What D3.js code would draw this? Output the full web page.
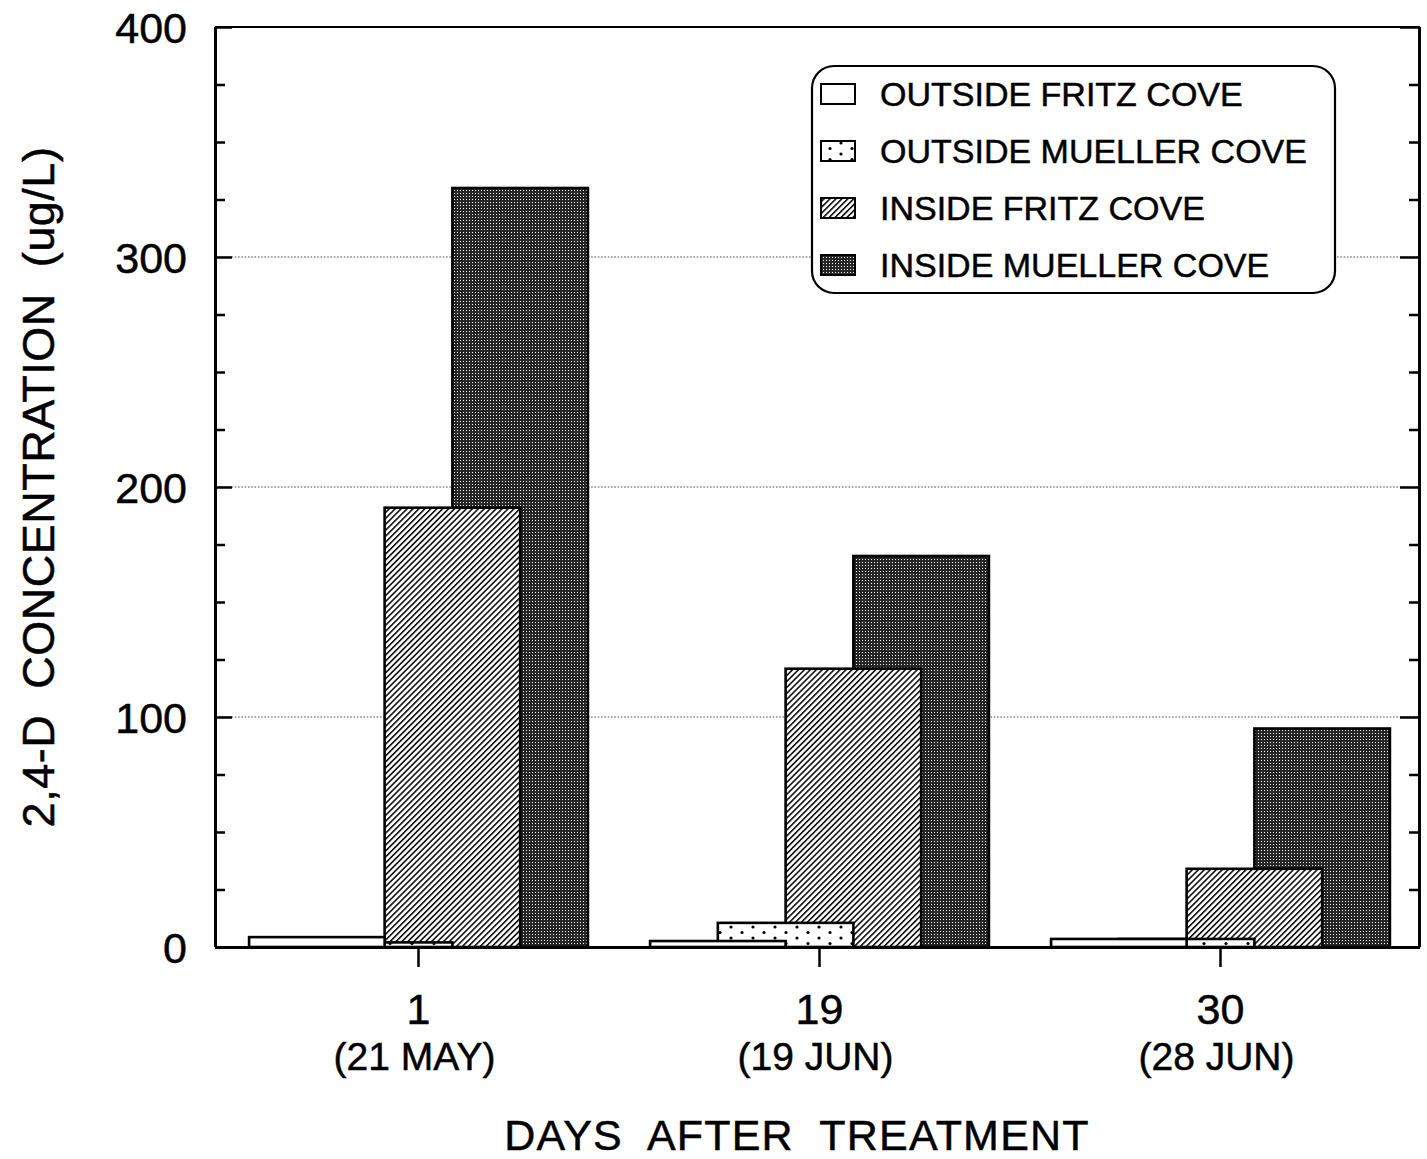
<!DOCTYPE html>
<html><head><meta charset="utf-8">
<script src="https://cdn.jsdelivr.net/npm/d3@7"></script>
<style>
html,body{margin:0;padding:0;background:#fff;}
text{font-family:"Liberation Sans",Arial,Helvetica,sans-serif;fill:#000;stroke:#000;stroke-width:0.5px;}
</style></head>
<body>
<svg id="chart" width="1427" height="1159"></svg>
<script>
// ---- data ----
const days = ["1", "19", "30"];
const dates = ["(21 MAY)", "(19 JUN)", "(28 JUN)"];
const series = ["OUTSIDE FRITZ COVE", "OUTSIDE MUELLER COVE", "INSIDE FRITZ COVE", "INSIDE MUELLER COVE"];
const outsideFritz   = [4.3, 2.6, 3.5];
const outsideMueller = [2, 10.5, 3.5];
const insideFritz    = [191, 121, 34];
const insideMueller  = [330, 170, 95];
const yMajorTicks = [0, 100, 200, 300, 400];
const yGridValues = [100, 200, 300];

const values = [outsideFritz, outsideMueller, insideFritz, insideMueller];
const fills = ["url(#pWhite)", "url(#pDots)", "url(#pHatch)", "url(#pDark)"];

const svg = d3.select("#chart");
const L = 215, R = 1420, T = 27, B = 947;

const defs = svg.append("defs");
// hatch
const ph = defs.append("pattern").attr("id","pHatch").attr("patternUnits","userSpaceOnUse")
  .attr("width",4.2).attr("height",10).attr("patternTransform","rotate(45)");
ph.append("rect").attr("width",4.2).attr("height",10).attr("fill","#fff");
ph.append("rect").attr("width",1.5).attr("height",10).attr("fill","#000");
// dots
const pd = defs.append("pattern").attr("id","pDots").attr("patternUnits","userSpaceOnUse")
  .attr("width",22).attr("height",11);
pd.append("rect").attr("width",22).attr("height",11).attr("fill","#fff");
pd.append("circle").attr("cx",5).attr("cy",3).attr("r",1.6).attr("fill","#000");
pd.append("circle").attr("cx",16).attr("cy",8.5).attr("r",1.6).attr("fill","#000");
// dark mesh
const pk = defs.append("pattern").attr("id","pDark").attr("patternUnits","userSpaceOnUse")
  .attr("width",3).attr("height",3);
pk.append("rect").attr("width",3).attr("height",3).attr("fill","#262626");
pk.append("rect").attr("x",1).attr("y",1).attr("width",1).attr("height",1).attr("fill","#f0f0f0");
const pw = defs.append("pattern").attr("id","pWhite").attr("patternUnits","userSpaceOnUse")
  .attr("width",4).attr("height",4);
pw.append("rect").attr("width",4).attr("height",4).attr("fill","#fff");

const x = d3.scaleBand().domain(days).range([218, 1421]).padding(0);
const y = d3.scaleLinear().domain([0, 400]).range([B, T]);
const step = x.bandwidth() * 0.169;
const bw = step * 2;

// grid
svg.append("g").selectAll("line").data(yGridValues).join("line")
  .attr("x1", L).attr("x2", R).attr("y1", d => y(d)).attr("y2", d => y(d))
  .attr("stroke", "#444").attr("stroke-width", 1.2).attr("stroke-dasharray", "1.5,1.8");

// bars, drawn from back (inside mueller) to front (outside fritz)
const barG = svg.append("g");
for (let s = 3; s >= 0; s--) {
  barG.append("g").selectAll("rect").data(days).join("rect")
    .attr("x", (d) => x(d) + x.bandwidth() / 2 + (s - 1.5) * step - bw / 2)
    .attr("width", bw)
    .attr("y", (d, i) => y(values[s][i]))
    .attr("height", (d, i) => B - y(values[s][i]))
    .attr("fill", fills[s]).attr("stroke", "#000").attr("stroke-width", 2.6);
}

// frame
svg.append("line").attr("x1", L).attr("x2", R).attr("y1", T).attr("y2", T).attr("stroke", "#000").attr("stroke-width", 2);

// axes
const minorVals = d3.range(0, 401, 25).filter(v => v % 100 !== 0);
const leftMajor = svg.append("g").attr("transform", `translate(${L},0)`)
  .call(d3.axisLeft(y).tickValues(yMajorTicks).tickSize(-17).tickPadding(28).tickFormat(d3.format("d")));
const leftMinor = svg.append("g").attr("transform", `translate(${L},0)`)
  .call(d3.axisLeft(y).tickValues(minorVals).tickSize(-10).tickFormat(""));
const rightMajor = svg.append("g").attr("transform", `translate(${R},0)`)
  .call(d3.axisRight(y).tickValues(yMajorTicks).tickSize(-20).tickFormat(""));
const rightMinor = svg.append("g").attr("transform", `translate(${R},0)`)
  .call(d3.axisRight(y).tickValues(minorVals).tickSize(-11).tickFormat(""));
const bottom = svg.append("g").attr("transform", `translate(0,${B})`)
  .call(d3.axisBottom(x).tickSize(20).tickPadding(0));

[leftMajor, leftMinor, rightMajor, rightMinor, bottom].forEach(g => {
  g.select(".domain").attr("stroke", "#000").attr("stroke-width", 3);
  g.selectAll(".tick line").attr("stroke", "#000").attr("stroke-width", 2.5);
});
leftMajor.selectAll(".tick text").attr("font-size", 43).attr("fill", "#000").attr("dy", "0.36em");
bottom.select(".domain").attr("d", `M${L},0.5H${R}`);
leftMajor.select(".domain").attr("d", `M0.5,${B}V${T}`);
leftMinor.select(".domain").remove();
rightMajor.select(".domain").attr("d", `M-0.5,${B}V${T}`);
rightMinor.select(".domain").remove();

bottom.selectAll(".tick text").each(function(d, i) {
  const t = d3.select(this).text(null).attr("y", 0).attr("dy", null).attr("fill", "#000");
  t.append("tspan").attr("x", 0).attr("y", 77).attr("font-size", 43).text(days[i]);
  t.append("tspan").attr("x", -4).attr("y", 123).attr("font-size", 39).text(dates[i]);
});

// titles
svg.append("text").attr("x", 797).attr("y", 1150).attr("text-anchor", "middle")
  .attr("font-size", 43).attr("letter-spacing", 1.2).style("white-space", "pre")
  .text("DAYS  AFTER  TREATMENT");
svg.append("text").attr("transform", "translate(54,487) rotate(-90)").attr("text-anchor", "middle")
  .attr("font-size", 45).attr("letter-spacing", 0.5).style("white-space", "pre")
  .text("2,4-D  CONCENTRATION  (ug/L)");

// legend
const lg = svg.append("g");
lg.append("rect").attr("x", 812).attr("y", 66).attr("width", 523).attr("height", 227)
  .attr("rx", 22).attr("fill", "#fff").attr("stroke", "#000").attr("stroke-width", 2.2);
const rows = lg.selectAll("g.row").data(series).join("g").attr("class", "row")
  .attr("transform", (d, i) => `translate(0,${94 + i * 57})`);
rows.append("rect").attr("x", 821).attr("y", -10).attr("width", 34).attr("height", 20)
  .attr("fill", (d, i) => fills[i]).attr("stroke", "#000").attr("stroke-width", 2);
rows.append("text").attr("x", 880).attr("y", 0).attr("dy", "0.36em").attr("font-size", 34).text(d => d);
</script>
</body></html>
